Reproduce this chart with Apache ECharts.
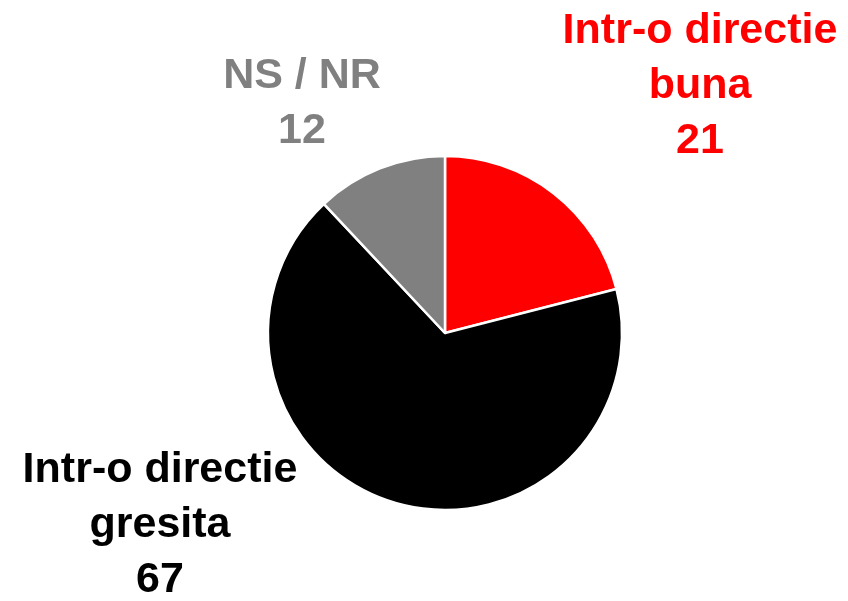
<!DOCTYPE html>
<html>
<head>
<meta charset="utf-8">
<style>
  html, body { margin: 0; padding: 0; background: #fff; }
  #chart { width: 848px; height: 601px; }
</style>
<script src="https://cdn.jsdelivr.net/npm/echarts@6/dist/echarts.min.js"></script>
</head>
<body>
<div id="chart"></div>
<script>
// date
var names = ['Intr-o directie\nbuna', 'Intr-o directie\ngresita', 'NS / NR'];
var values = [21, 67, 12];
var colors = ['#ff0000', '#000000', '#808080'];
// pozitii etichete (centru bloc text)
var labelPos = [[700, 86], [160, 525], [302, 104]];

var chart = echarts.init(document.getElementById('chart'));

var data = [];
for (var i = 0; i < values.length; i++) {
  data.push({
    name: names[i],
    value: values[i],
    itemStyle: { color: colors[i] },
    label: { color: colors[i] }
  });
}

var option = {
  backgroundColor: '#ffffff',
  animation: false,
  series: [{
    type: 'pie',
    center: [445, 333],
    radius: 177,
    startAngle: 90,
    clockwise: true,
    data: data,
    itemStyle: {
      borderColor: '#ffffff',
      borderWidth: 2.5
    },
    label: {
      show: true,
      position: 'outside',
      formatter: '{b}\n{c}',
      fontFamily: 'Liberation Sans, Arial, sans-serif',
      fontWeight: 'bold',
      fontSize: 43,
      lineHeight: 55,
      align: 'center',
      overflow: 'none',
      edgeDistance: 0
    },
    labelLine: { show: false },
    labelLayout: function (p) {
      var pos = labelPos[p.dataIndex];
      return { x: pos[0], y: pos[1], align: 'center', verticalAlign: 'middle' };
    }
  }]
};

chart.setOption(option);
window.onresize = function () { chart.resize(); };
</script>
</body>
</html>
